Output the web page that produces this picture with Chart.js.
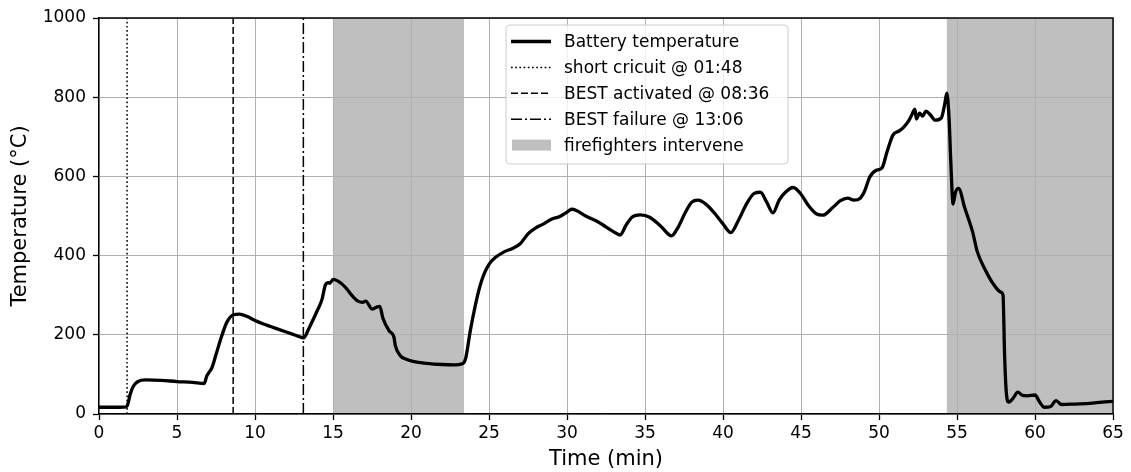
<!DOCTYPE html>
<html><head><meta charset="utf-8">
<script src="https://cdn.jsdelivr.net/npm/chart.js@4.4.0/dist/chart.umd.min.js"></script>
<style>html,body{margin:0;padding:0;background:#fff}</style>
</head><body>
<canvas id="c" width="1131" height="472" style="display:block;width:1131px;height:472px"></canvas>
<script>
// ---- data ----
const timeMin = [0,1.0,1.75,1.85,2.0,2.2,2.5,3.0,4.0,5.0,6.0,6.75,6.9,7.05,7.25,7.5,7.85,8.2,8.6,9.0,9.5,10.0,10.5,11.0,12.0,12.6,13.1,13.5,14.0,14.3,14.5,14.7,14.8,15.0,15.3,15.8,16.2,16.6,16.9,17.1,17.5,17.8,18.0,18.2,18.6,18.9,19.0,19.3,19.7,20.2,21.0,22.0,22.7,23.3,23.5,23.8,24.1,24.4,24.7,25.0,25.4,26.0,26.5,27.0,27.5,28.0,28.5,29.0,29.5,30.0,30.3,30.6,31.2,32.0,33.0,33.4,33.8,34.2,34.7,35.3,36.0,36.7,37.1,37.6,38.0,38.4,38.9,39.5,40.0,40.5,41.0,41.5,42.0,42.4,42.8,43.2,43.6,44.0,44.5,45.0,45.5,46.0,46.4,47.0,47.5,48.0,48.4,48.8,49.1,49.4,49.8,50.2,50.5,50.9,51.3,51.6,51.9,52.1,52.3,52.4,52.6,52.8,53.0,53.3,53.6,54.0,54.2,54.35,54.5,54.6,54.75,54.9,55.1,55.5,56.0,56.3,56.8,57.3,57.8,57.95,58.05,58.15,58.3,58.6,58.9,59.2,59.5,60.0,60.3,60.6,61.0,61.35,61.7,62.5,63.5,64.3,65.0];
const tempC   = [17,17,18,25,50,70,82,86,85,82,80,77,95,105,118,150,195,232,250,252,246,236,228,221,207,199,192,220,262,290,325,332,330,340,336,320,300,285,282,285,265,270,272,242,210,195,172,148,138,132,128,125,124,127,140,210,270,320,355,378,395,410,418,430,455,470,480,492,498,510,517,514,500,485,460,452,478,498,503,497,475,450,470,510,535,540,530,505,480,458,490,530,557,560,535,508,540,560,572,555,525,505,502,520,538,545,540,545,565,598,615,622,660,705,715,725,740,755,770,745,760,752,765,755,742,748,780,810,740,640,530,560,570,520,460,410,365,330,308,300,150,60,30,40,55,47,46,48,30,17,19,34,24,25,27,30,32];

const eventTimes  = [1.8, 8.6, 13.1];
const eventLabels = ['short cricuit @ 01:48', 'BEST activated @ 08:36', 'BEST failure @ 13:06'];
const seriesLabel = 'Battery temperature';
const spanStart = [15.0, 54.35];
const spanEnd   = [23.4, 65.0];
const spanLabel = 'firefighters intervene';
const xTickValues = [0,5,10,15,20,25,30,35,40,45,50,55,60,65];
const yTickValues = [0,200,400,600,800,1000];

// ---- styles ----
const FONT = '"DejaVu Sans", "Liberation Sans", sans-serif';
const SHADE = '#bfbfbf';
const eventDashes = [[1.7,2.5],[7,3],[11,3,2,3]];

const datasets = [{
  label: seriesLabel,
  data: timeMin.map((t,i)=>({x:t, y:tempC[i]})),
  borderColor: '#000', borderWidth: 3.3, pointRadius: 0,
  cubicInterpolationMode: 'monotone', fill: false, order: 0
}];
eventTimes.forEach((t,i)=>{
  datasets.push({
    label: eventLabels[i],
    data: [{x:t, y:yTickValues[0]}, {x:t, y:yTickValues[yTickValues.length-1]}],
    borderColor: '#000', borderWidth: 1.5, borderDash: eventDashes[i],
    pointRadius: 0, fill: false, order: 1
  });
});

const shadePlugin = {
  id: 'shade',
  beforeDraw(chart){
    const {ctx, chartArea:a, scales:{x}} = chart;
    ctx.save();
    ctx.fillStyle = SHADE;
    spanStart.forEach((s,i)=>{
      const x0 = x.getPixelForValue(s), x1 = x.getPixelForValue(spanEnd[i]);
      ctx.fillRect(x0, a.top, x1-x0, a.bottom-a.top);
    });
    ctx.restore();
  }
};

const framePlugin = {
  id: 'frame',
  afterDraw(chart){
    const {ctx, chartArea:a} = chart;
    ctx.save();
    ctx.strokeStyle = '#000'; ctx.lineWidth = 1.4;
    ctx.beginPath();
    ctx.moveTo(a.left, a.top); ctx.lineTo(a.right, a.top); ctx.lineTo(a.right, a.bottom);
    ctx.stroke();
    // legend
    const L = 506, T = 25, W = 282, H = 139, r = 4;
    ctx.beginPath();
    ctx.moveTo(L+r, T); ctx.lineTo(L+W-r, T); ctx.arcTo(L+W, T, L+W, T+r, r);
    ctx.lineTo(L+W, T+H-r); ctx.arcTo(L+W, T+H, L+W-r, T+H, r);
    ctx.lineTo(L+r, T+H); ctx.arcTo(L, T+H, L, T+H-r, r);
    ctx.lineTo(L, T+r); ctx.arcTo(L, T, L+r, T, r); ctx.closePath();
    ctx.fillStyle = 'rgba(255,255,255,0.8)'; ctx.fill();
    ctx.strokeStyle = '#cccccc'; ctx.lineWidth = 1; ctx.stroke();
    const rows = chart.data.datasets.map(d=>({label:d.label, dash:d.borderDash||[], w:d.borderWidth}));
    rows.push({label: spanLabel, patch: true});
    ctx.font = '17px ' + FONT; ctx.textBaseline = 'middle'; ctx.textAlign = 'left';
    rows.forEach((row,i)=>{
      const y = 41.5 + i*25.9;
      if (row.patch){
        ctx.fillStyle = SHADE; ctx.fillRect(512, y-5.5, 39, 11);
      } else {
        ctx.strokeStyle = '#000'; ctx.lineWidth = row.w; ctx.setLineDash(row.dash);
        ctx.beginPath(); ctx.moveTo(511, y); ctx.lineTo(551, y); ctx.stroke();
        ctx.setLineDash([]);
      }
      ctx.fillStyle = '#000';
      ctx.fillText(row.label, 564, y+1);
    });
    ctx.restore();
  }
};

new Chart(document.getElementById('c'), {
  type: 'line',
  data: { datasets },
  options: {
    responsive: false, animation: false, devicePixelRatio: 1,
    layout: { padding: { left: 0, right: 18, top: 18, bottom: 0 } },
    plugins: { legend: { display: false }, tooltip: { enabled: false } },
    scales: {
      x: {
        type: 'linear', min: 0, max: 65,
        afterBuildTicks: s => { s.ticks = xTickValues.map(v=>({value:v})); },
        afterFit: s => { s.height = 58; },
        ticks: { font: { family: FONT, size: 17 }, color: '#000', padding: 3, maxRotation: 0, autoSkip: false, callback: v => String(v) },
        grid: { color: '#b0b0b0', lineWidth: 1, tickColor: '#000', tickLength: 6, tickWidth: 1.3 },
        border: { color: '#000', width: 1.4 },
        title: { display: true, text: 'Time (min)', color: '#000', font: { family: FONT, size: 21 }, padding: { top: 0, bottom: 0 } }
      },
      y: {
        type: 'linear', min: 0, max: 1000,
        afterBuildTicks: s => { s.ticks = yTickValues.map(v=>({value:v})); },
        afterFit: s => { s.width = 99; },
        ticks: { font: { family: FONT, size: 17 }, color: '#000', padding: 7, autoSkip: false, callback: v => String(v) },
        grid: { color: '#b0b0b0', lineWidth: 1, tickColor: '#000', tickLength: 6, tickWidth: 1.3 },
        border: { color: '#000', width: 1.4 },
        title: { display: true, text: 'Temperature (°C)', color: '#000', font: { family: FONT, size: 21 }, padding: { top: 8, bottom: 0 } }
      }
    }
  },
  plugins: [shadePlugin, framePlugin]
});
</script>
</body></html>
